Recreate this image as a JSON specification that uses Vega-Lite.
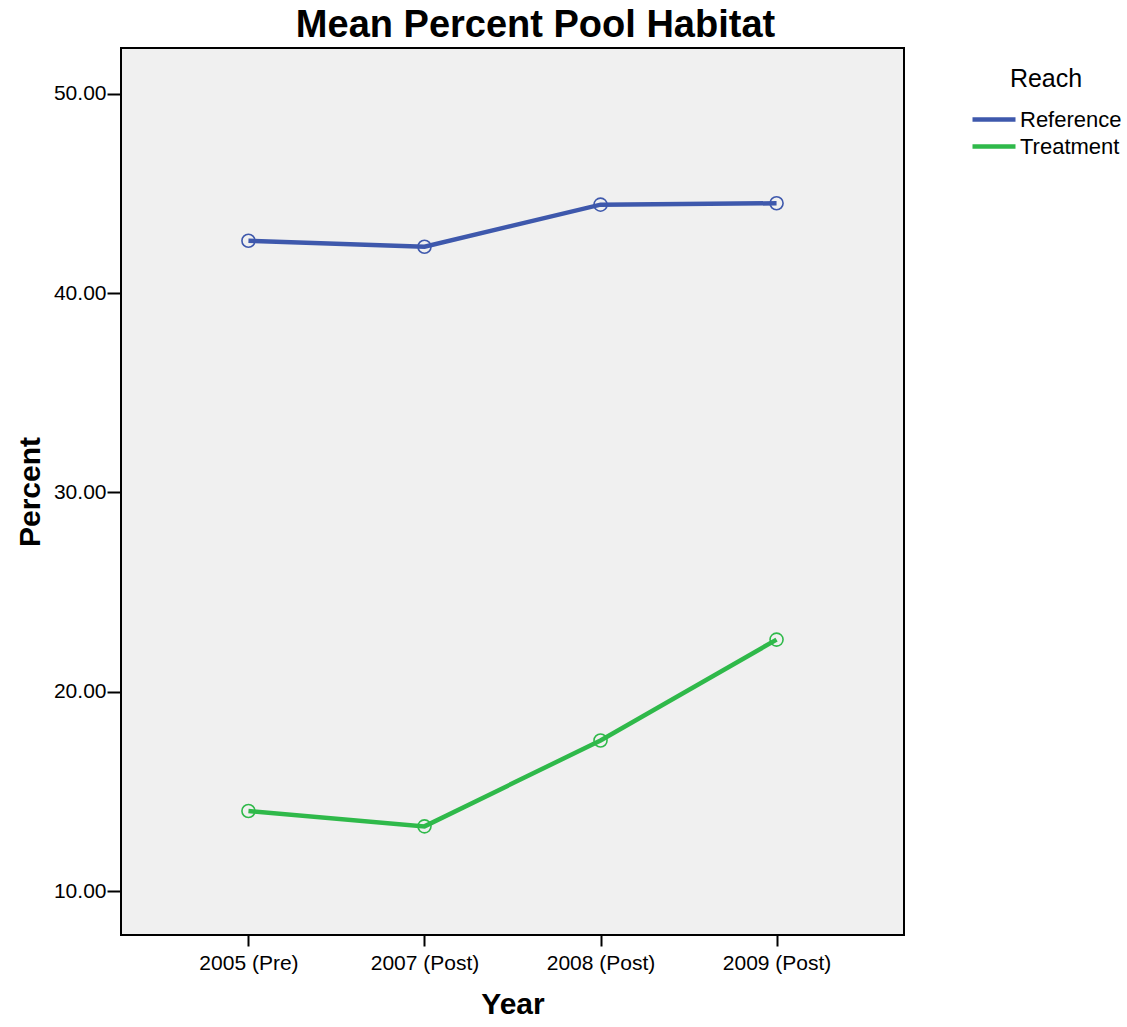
{
  "$schema": "https://vega.github.io/schema/vega-lite/v6.json",
  "autosize": "none",
  "width": 783,
  "height": 887,
  "padding": {"left": 121, "top": 48, "right": 223, "bottom": 92},
  "background": "white",
  "title": {
    "text": "Mean Percent Pool Habitat",
    "font": "Liberation Sans",
    "fontSize": 38,
    "fontWeight": "bold",
    "color": "black",
    "anchor": "middle",
    "offset": 3,
    "dx": 23
  },
  "config": {
    "view": {"fill": "#f0f0f0", "stroke": "black", "strokeWidth": 2},
    "font": "Liberation Sans"
  },
  "data": {
    "values": [
      {"Year": "2005 (Pre)", "Reach": "Reference", "Percent": 42.63},
      {"Year": "2007 (Post)", "Reach": "Reference", "Percent": 42.33},
      {"Year": "2008 (Post)", "Reach": "Reference", "Percent": 44.44},
      {"Year": "2009 (Post)", "Reach": "Reference", "Percent": 44.51},
      {"Year": "2005 (Pre)", "Reach": "Treatment", "Percent": 14.02},
      {"Year": "2007 (Post)", "Reach": "Treatment", "Percent": 13.25},
      {"Year": "2008 (Post)", "Reach": "Treatment", "Percent": 17.56},
      {"Year": "2009 (Post)", "Reach": "Treatment", "Percent": 22.62}
    ]
  },
  "encoding": {
    "x": {
      "field": "Year",
      "type": "ordinal",
      "sort": null,
      "scale": {"type": "point", "padding": 0.724},
      "axis": {
        "title": "Year",
        "labelAngle": 0,
        "labelFontSize": 21,
        "labelColor": "black",
        "labelPadding": 6,
        "tickSize": 11,
        "tickWidth": 2,
        "tickColor": "black",
        "domain": false,
        "titleFontSize": 30,
        "titleFontWeight": "bold",
        "titleColor": "black",
        "titlePadding": 16
      }
    },
    "y": {
      "field": "Percent",
      "type": "quantitative",
      "scale": {"domain": [7.8, 52.3], "nice": false, "zero": false},
      "axis": {
        "title": "Percent",
        "values": [10, 20, 30, 40, 50],
        "format": ".2f",
        "grid": false,
        "labelFontSize": 21,
        "labelColor": "black",
        "labelPadding": 1,
        "tickSize": 14,
        "tickWidth": 2,
        "tickColor": "black",
        "domain": false,
        "titleFontSize": 30,
        "titleFontWeight": "bold",
        "titleColor": "black",
        "titlePadding": 8
      }
    },
    "color": {
      "field": "Reach",
      "type": "nominal",
      "scale": {"domain": ["Reference", "Treatment"], "range": ["#3e58ac", "#2fb94a"]}
    }
  },
  "layer": [
    {
      "mark": {"type": "line", "strokeWidth": 4.5},
      "encoding": {
        "color": {
          "field": "Reach",
          "type": "nominal",
          "scale": {"domain": ["Reference", "Treatment"], "range": ["#3e58ac", "#2fb94a"]},
          "legend": {
            "orient": "none",
            "legendX": 849,
            "legendY": 19,
            "title": "Reach",
            "titleFontSize": 25,
            "titleFontWeight": "normal",
            "titleColor": "black",
            "titleAnchor": "middle",
            "titleAlign": "center",
            "titlePadding": 14,
            "labelFontSize": 22,
            "labelColor": "black",
            "labelOffset": 2,
            "symbolType": "stroke",
            "symbolSize": 1849,
            "symbolStrokeWidth": 4.5,
            "clipHeight": 27,
            "rowPadding": 0
          }
        }
      }
    },
    {
      "mark": {"type": "point", "filled": false, "size": 170, "strokeWidth": 1.6, "opacity": 1},
      "encoding": {
        "color": {
          "field": "Reach",
          "type": "nominal",
          "scale": {"domain": ["Reference", "Treatment"], "range": ["#3e58ac", "#2fb94a"]},
          "legend": null
        }
      }
    }
  ]
}
